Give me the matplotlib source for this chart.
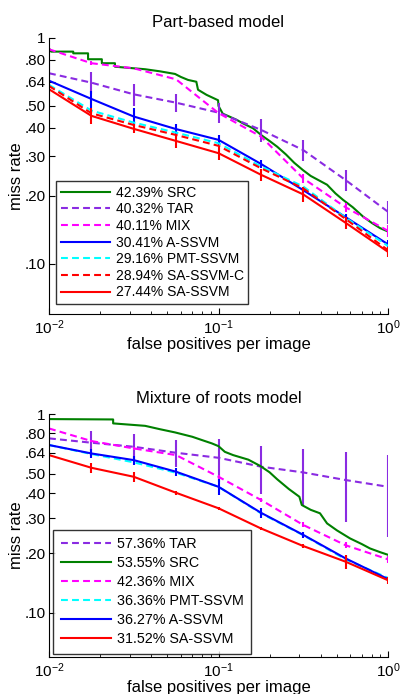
import numpy as np
import matplotlib
matplotlib.use("Agg")
import matplotlib.pyplot as plt
from matplotlib.ticker import FixedLocator, FixedFormatter, LogLocator, NullFormatter

plt.rcParams['font.family'] = ['Liberation Sans', 'DejaVu Sans']

# fppi sample points used for the error bars
fppi = [0.01, 0.0178, 0.0316, 0.0562, 0.1, 0.178, 0.316, 0.562, 1.0]

# ---- Part-based model ----
p_src_x = [0.0100, 0.0103, 0.0139, 0.0139, 0.0170, 0.0170, 0.0205, 0.0205, 0.0245,
           0.0245, 0.0369, 0.0450, 0.0554, 0.0600, 0.0661, 0.0740, 0.0757, 0.0850,
           0.0994, 0.1000, 0.1060, 0.1150, 0.1280, 0.1400, 0.1600, 0.1800, 0.2000,
           0.2220, 0.2500, 0.2800, 0.3150, 0.3500, 0.4370, 0.4900, 0.5430, 0.6200,
           0.7120, 0.8000, 0.8970, 1.0]
p_src_y = [0.900, 0.870, 0.870, 0.855, 0.855, 0.805, 0.805, 0.773, 0.773,
           0.746, 0.727, 0.712, 0.693, 0.672, 0.652, 0.640, 0.590, 0.560,
           0.530, 0.500, 0.462, 0.450, 0.434, 0.418, 0.398, 0.370, 0.350,
           0.330, 0.305, 0.280, 0.260, 0.245, 0.224, 0.205, 0.192, 0.178,
           0.162, 0.152, 0.144, 0.139]
p_tar = [0.698, 0.634, 0.563, 0.517, 0.467, 0.392, 0.319, 0.235, 0.170]
p_tar_err = [0.077, 0.072, 0.065, 0.046, 0.046, 0.046, 0.035, 0.024, 0.020]
p_mix = [0.891, 0.773, 0.734, 0.656, 0.465, 0.366, 0.239, 0.178, 0.140]
p_mix_err = [0, 0.015, 0, 0, 0, 0, 0.010, 0.008, 0.008]
p_assvm = [0.647, 0.537, 0.449, 0.395, 0.354, 0.277, 0.212, 0.161, 0.122]
p_assvm_err = [0, 0.047, 0.042, 0.020, 0.018, 0.010, 0.008, 0.006, 0.005]
p_pmt = [0.620, 0.477, 0.422, 0.381, 0.342, 0.270, 0.220, 0.160, 0.120]
p_sac = [0.613, 0.464, 0.412, 0.372, 0.333, 0.265, 0.216, 0.158, 0.115]
p_sa = [0.593, 0.452, 0.396, 0.350, 0.309, 0.248, 0.203, 0.152, 0.113]
p_sa_err = [0.030, 0.036, 0.018, 0.025, 0.020, 0.015, 0.015, 0.010, 0.006]

# ---- Mixture of roots model ----
m_src_x = [0.0100, 0.0239, 0.0239, 0.0369, 0.0450, 0.0554, 0.0701, 0.0800, 0.0915,
           0.1000, 0.1090, 0.1220, 0.1500, 0.1760, 0.2000, 0.2220, 0.2600, 0.3000,
           0.3100, 0.3500, 0.3970, 0.4370, 0.5000, 0.5970, 0.7000, 0.7830, 0.9000, 1.0]
m_src_y = [0.944, 0.940, 0.898, 0.873, 0.840, 0.809, 0.769, 0.740, 0.712,
           0.690, 0.646, 0.622, 0.590, 0.549, 0.510, 0.470, 0.420, 0.384,
           0.349, 0.330, 0.317, 0.282, 0.260, 0.237, 0.222, 0.211, 0.202, 0.196]
m_tar = [0.755, 0.718, 0.685, 0.639, 0.603, 0.544, 0.509, 0.466, 0.431]
m_tar_err = [0.030, 0.100, 0.113, 0.100, 0.146, 0.146, 0.158, 0.179, 0.190]
m_mix = [0.847, 0.732, 0.672, 0.622, 0.484, 0.370, 0.277, 0.219, 0.186]
m_mix_err = [0, 0.012, 0.012, 0, 0.012, 0.010, 0.008, 0.008, 0.008]
m_pmt = [0.699, 0.630, 0.572, 0.507, 0.431, 0.317, 0.246, 0.186, 0.150]
m_assvm = [0.699, 0.634, 0.587, 0.513, 0.431, 0.319, 0.247, 0.188, 0.148]
m_assvm_err = [0, 0.035, 0.030, 0.025, 0.040, 0.020, 0.008, 0.006, 0.004]
m_sa = [0.622, 0.537, 0.484, 0.402, 0.336, 0.266, 0.217, 0.181, 0.146]
m_sa_err = [0.030, 0.030, 0.030, 0.010, 0.005, 0.005, 0.005, 0.015, 0.006]

ytick_vals = [0.10, 0.20, 0.30, 0.40, 0.50, 0.64, 0.80, 1.0]
ytick_labels = ['.10', '.20', '.30', '.40', '.50', '.64', '.80', '1']

GREEN = '#008000'
PURPLE = '#8a2be2'
MAGENTA = '#ff00ff'
BLUE = '#0000ff'
CYAN = '#00ffff'
RED = '#ff0000'
LW = 1.5
DASH = (3.3, 2.0)


def curve(ax, y, color, label, dashed=False, err=None):
    kw = dict(color=color, lw=LW, label=label)
    if dashed:
        kw['dashes'] = DASH
    ax.plot(fppi, y, **kw)
    if err is not None:
        y = np.array(y)
        e = np.array(err)
        # std error bars, symmetric in miss rate
        ax.vlines(fppi, y - e, y + e, colors=color, lw=LW)


def style(ax, title):
    ax.set_xscale('log')
    ax.set_yscale('log')
    ax.set_xlim(0.01, 1.0)
    ax.set_ylim(0.06, 1.0)
    ax.yaxis.set_major_locator(FixedLocator(ytick_vals))
    ax.yaxis.set_major_formatter(FixedFormatter(ytick_labels))
    ax.yaxis.set_minor_locator(FixedLocator([]))
    ax.xaxis.set_minor_locator(LogLocator(base=10, subs=np.arange(2, 10)))
    ax.xaxis.set_minor_formatter(NullFormatter())
    ax.spines['top'].set_visible(False)
    ax.spines['right'].set_visible(False)
    ax.tick_params(which='both', direction='in', labelsize=11)
    ax.tick_params(which='major', length=4)
    ax.tick_params(which='minor', length=2)
    ax.tick_params(axis='y', pad=2.5)
    ax.set_title(title, fontsize=12, pad=8)
    ax.set_xlabel('false positives per image', fontsize=12, labelpad=0)
    ax.set_ylabel('miss rate', fontsize=12, labelpad=0)


fig = plt.figure(figsize=(4.0, 6.94), dpi=100)

ax1 = fig.add_axes([0.1225, 0.5476, 0.8475, 0.3977])
ax1.plot(p_src_x, p_src_y, color=GREEN, lw=LW, label='42.39% SRC')
curve(ax1, p_tar, PURPLE, '40.32% TAR', dashed=True, err=p_tar_err)
curve(ax1, p_mix, MAGENTA, '40.11% MIX', dashed=True, err=p_mix_err)
curve(ax1, p_assvm, BLUE, '30.41% A-SSVM', err=p_assvm_err)
curve(ax1, p_pmt, CYAN, '29.16% PMT-SSVM', dashed=True)
curve(ax1, p_sac, RED, '28.94% SA-SSVM-C', dashed=True)
curve(ax1, p_sa, RED, '27.44% SA-SSVM', err=p_sa_err)
style(ax1, 'Part-based model')
leg1 = ax1.legend(loc='lower left', bbox_to_anchor=(0.022, 0.036), borderaxespad=0,
                  fontsize=10, frameon=True, fancybox=False, edgecolor='black',
                  handlelength=3.5, handletextpad=0.45, labelspacing=0.19,
                  borderpad=0.33)
leg1.get_frame().set_linewidth(1.0)

ax2 = fig.add_axes([0.1225, 0.0533, 0.8475, 0.350])
curve(ax2, m_tar, PURPLE, '57.36% TAR', dashed=True, err=m_tar_err)
ax2.plot(m_src_x, m_src_y, color=GREEN, lw=LW, label='53.55% SRC')
curve(ax2, m_mix, MAGENTA, '42.36% MIX', dashed=True, err=m_mix_err)
curve(ax2, m_pmt, CYAN, '36.36% PMT-SSVM', dashed=True)
curve(ax2, m_assvm, BLUE, '36.27% A-SSVM', err=m_assvm_err)
curve(ax2, m_sa, RED, '31.52% SA-SSVM', err=m_sa_err)
style(ax2, 'Mixture of roots model')
leg2 = ax2.legend(loc='lower left', bbox_to_anchor=(0.013, 0.014), borderaxespad=0,
                  fontsize=10.3, frameon=True, fancybox=False, edgecolor='black',
                  handlelength=3.5, handletextpad=0.42, labelspacing=0.36,
                  borderpad=0.5)
leg2.get_frame().set_linewidth(1.0)

fig.savefig('out.png', dpi=100)
